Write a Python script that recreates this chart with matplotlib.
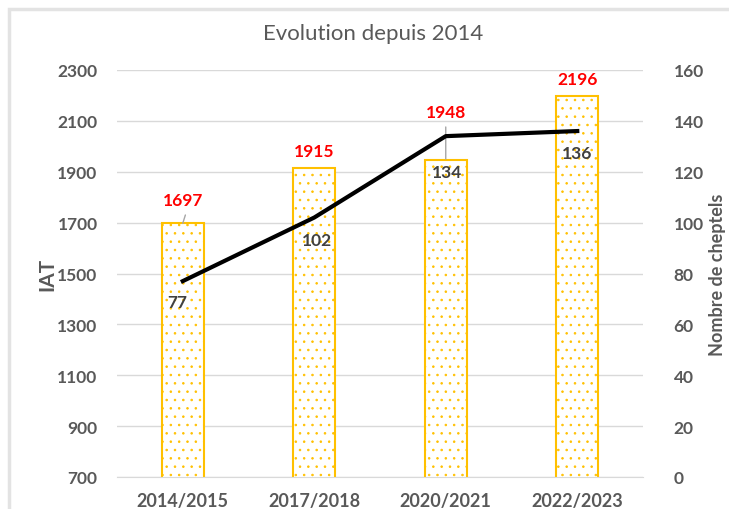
import matplotlib
matplotlib.use("Agg")
import matplotlib.pyplot as plt
from matplotlib.patches import Rectangle

plt.rcParams['font.family'] = ['Lato', 'DejaVu Sans']
plt.rcParams['hatch.color'] = '#FFC000'
plt.rcParams['hatch.linewidth'] = 0.6

periods = ['2014/2015', '2017/2018', '2020/2021', '2022/2023']
iat = [1697, 1915, 1948, 2196]
cheptels = [77, 102, 134, 136]

grey = '#595959'
gold = '#FFC000'

fig = plt.figure(figsize=(7.29, 5.1), dpi=100)
fig.patches.append(Rectangle((9 / 729, -0.1), 1.2, 1 - 10 / 510 + 0.1,
                             transform=fig.transFigure, fill=False,
                             edgecolor='#e3e3e3', linewidth=2.5))

ax = fig.add_axes([117 / 729, 1 - 478 / 510, 526 / 729, 407 / 510])
x = range(len(periods))
ax.bar(x, iat, width=0.32, bottom=0, color='white', edgecolor=gold,
       linewidth=1.5, hatch='..', zorder=2)
ax.set_ylim(700, 2300)
ax.set_xlim(-0.5, 3.5)
ax.set_yticks(range(700, 2301, 200))
ax.grid(axis='y', color='#d9d9d9', linewidth=1, zorder=0)
for s in ['top', 'right', 'left']:
    ax.spines[s].set_visible(False)
ax.spines['bottom'].set_color('#d9d9d9')
ax.tick_params(length=0, labelsize=12.5, labelcolor=grey, pad=14)
ax.tick_params(axis='x', pad=11, labelsize=13)
ax.set_xticks(list(x))
ax.set_xticklabels(periods, fontweight='bold')
for t in ax.get_yticklabels():
    t.set_fontweight('bold')
ax.set_ylabel('IAT', fontsize=15, fontweight='bold', color=grey, labelpad=0)

# red labels above bars
red_off = [17, 12, 34, 12.5]
for i, v in enumerate(iat):
    ax.annotate(str(v), (i, v), xytext=(0, red_off[i]), textcoords='offset points',
                ha='center', va='center', color='#FF0000', fontsize=12.5,
                fontweight='bold', zorder=5)
# leader lines
lead = dict(arrowstyle='-', color='#a6a6a6', lw=1, shrinkA=0, shrinkB=0)
ax.annotate('', (0, 1697), xytext=(0.02, 1730), arrowprops=lead)
ax.annotate('', (2, 1950), xytext=(2, 2076), arrowprops=lead)

ax2 = ax.twinx()
ax2.plot(x, cheptels, color='black', linewidth=3, zorder=4)
ax2.set_ylim(0, 160)
ax2.set_yticks(range(0, 161, 20))
for s in ['top', 'right', 'left', 'bottom']:
    ax2.spines[s].set_visible(False)
ax2.tick_params(length=0, labelsize=12.5, labelcolor=grey, pad=22)
for t in ax2.get_yticklabels():
    t.set_fontweight('bold')
ax2.set_ylabel('Nombre de cheptels', fontsize=13, fontweight='bold', color=grey,
               labelpad=4)

line_off = [(-4, -15), (2, -16), (1, -26), (0, -16)]
for i, v in enumerate(cheptels):
    ax2.annotate(str(v), (i, v), xytext=line_off[i], textcoords='offset points',
                 ha='center', va='center', color='#404040', fontsize=12.5,
                 fontweight='bold', zorder=5)

fig.text(373 / 729, 1 - 34 / 510, 'Evolution depuis 2014', ha='center', va='center',
         fontsize=16, color=grey)

fig.savefig('out.png', dpi=100)
